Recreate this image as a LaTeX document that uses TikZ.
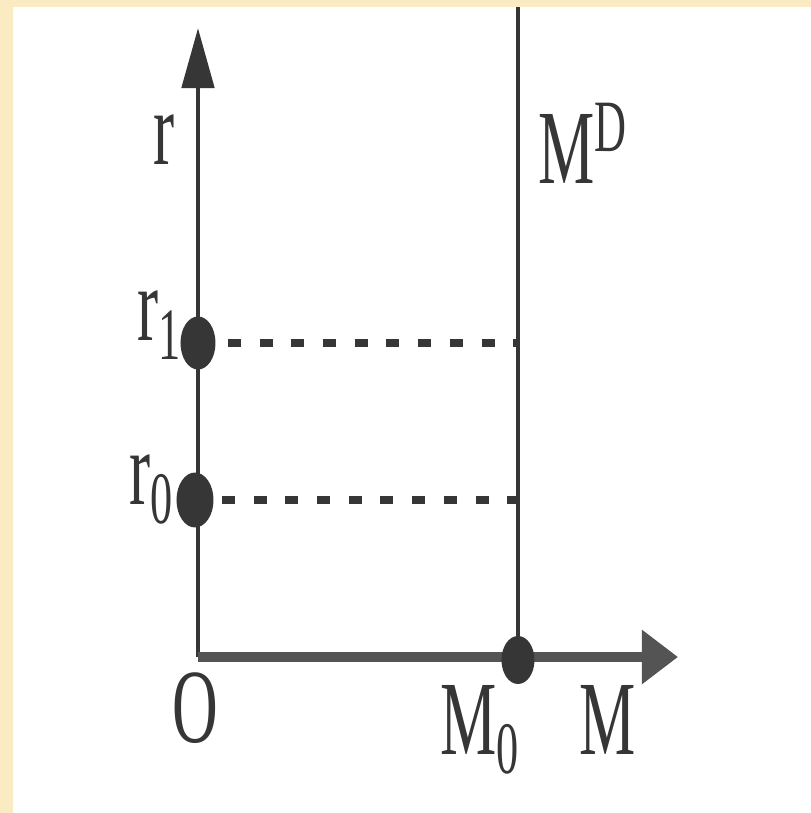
\documentclass[tikz,border=0pt]{standalone}
\usepackage{fontspec}
\setmainfont{Liberation Serif}
\usepackage{tikz}
\usetikzlibrary{arrows.meta}
\usepackage{tkz-euclide}
\usepackage{xcolor}
\definecolor{paper}{HTML}{FBEBC2}
\definecolor{ink}{HTML}{363636}

\begin{document}
\begin{tikzpicture}[lbl/.style={text=ink, font=\fontsize{30}{32}\selectfont, xscale=0.6, inner sep=0pt},
                    dashline/.style={ink, line width=2.4pt, dash pattern=on 0.13cm off 0.187cm}]
            \useasboundingbox (0,0) rectangle (8.11,8.13);
            \fill[white] (0,0) rectangle (8.11,8.13);
            \fill[paper] (0,0) rectangle (0.13,8.13);
            \fill[paper] (0,8.06) rectangle (8.11,8.13);
            \tkzDefPoints{1.98/1.56/O, 1.98/7.85/T, 6.78/1.56/E, 5.18/8.06/D, 5.18/1.56/M}
            \tkzDefPoints{1.98/4.70/R1, 1.95/3.13/R0, 2.28/4.70/P1, 2.22/3.13/P0, 5.18/4.70/Q1, 5.18/3.13/Q0}
            % dashed levels
            \draw[dashline] (P1) -- (Q1);
            \draw[dashline] (P0) -- (Q0);
            \draw[ink, line width=1.3pt] (D) -- (M);
            % axes
            \draw[ink, line width=1.4pt, -{Triangle[length=0.6cm, width=0.32cm]}] (O) -- (T);
            \draw[ink!85, line width=2.6pt, -{Triangle[length=0.36cm, width=0.52cm]}] (O) -- (E);
            \fill[ink] (R1) ellipse [x radius=0.175, y radius=0.265];
            \fill[ink] (R0) ellipse [x radius=0.185, y radius=0.275];
            \fill[ink] (5.18,1.53) ellipse [x radius=0.165, y radius=0.24];
            \node[lbl] (lr) at (1.64,6.73) {r};
            \node[lbl] (lr1) at (1.60,4.88) {r\textsubscript{1}};
            \node[lbl] (lr0) at (1.52,3.23) {r\textsubscript{0}};
            \node[lbl] (lO) at (1.95,1.05) {O};
            \node[lbl] (lM0) at (4.80,0.83) {M\textsubscript{0}};
            \node[lbl] (lM) at (6.08,0.93) {M};
            \node[lbl] (lMD) at (5.83,6.70) {M\textsuperscript{D}};
        \end{tikzpicture}
\end{document}
